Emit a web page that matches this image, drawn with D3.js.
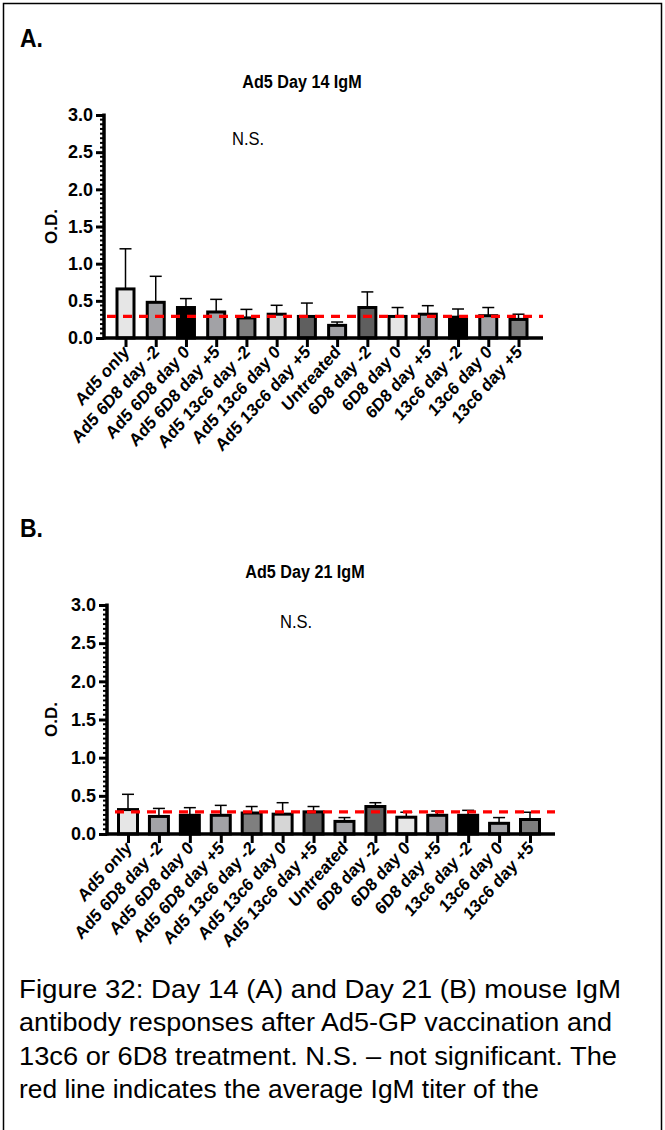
<!DOCTYPE html>
<html>
<head>
<meta charset="utf-8">
<script src="https://cdn.jsdelivr.net/npm/d3@7"></script>
<style>
  html, body { margin: 0; padding: 0; background: #fff; }
  svg { display: block; font-family: "Liberation Sans", Arial, sans-serif; }
</style>
</head>
<body>
<svg id="chart" width="665" height="1130"></svg>
<script>
// ---- Data ----
const categories = [
  "Ad5 only", "Ad5 6D8 day -2", "Ad5 6D8 day 0", "Ad5 6D8 day +5",
  "Ad5 13c6 day -2", "Ad5 13c6 day 0", "Ad5 13c6 day +5", "Untreated",
  "6D8 day -2", "6D8 day 0", "6D8 day +5", "13c6 day -2", "13c6 day 0", "13c6 day +5"
];
const barFills = [
  "#e6e6e6", "#a2a2a6", "#000000", "#a2a2a6", "#7f7f7f", "#d6d6d6", "#5f5f5f",
  "#a2a2a6", "#5f5f5f", "#e6e6e6", "#a2a2a6", "#000000", "#a2a2a6", "#7f7f7f"
];
const day14Mean = [0.66, 0.48, 0.41, 0.35, 0.27, 0.32, 0.29, 0.17, 0.41, 0.29, 0.32, 0.28, 0.30, 0.25];
const day14Err  = [1.20, 0.83, 0.53, 0.52, 0.385, 0.44, 0.47, 0.215, 0.62, 0.41, 0.435, 0.39, 0.41, 0.32];
const day21Mean = [0.32, 0.23, 0.245, 0.245, 0.275, 0.26, 0.29, 0.165, 0.36, 0.22, 0.245, 0.245, 0.14, 0.19];
const day21Err  = [0.52, 0.335, 0.345, 0.375, 0.36, 0.41, 0.36, 0.215, 0.41, 0.285, 0.30, 0.31, 0.215, 0.285];
const yTicks = [0, 0.5, 1.0, 1.5, 2.0, 2.5, 3.0];
const redLineValue14 = 0.29;
const redLineValue21 = 0.29;
const captionLines = [
  "Figure 32: Day 14 (A) and Day 21 (B) mouse IgM",
  "antibody responses after Ad5-GP vaccination and",
  "13c6 or 6D8 treatment.  N.S. \u2013 not significant. The",
  "red line indicates the average IgM titer of the"
];

const FONT = "Liberation Sans, Arial, sans-serif";
const svg = d3.select("#chart");

// frame
svg.append("rect").attr("x", 3.5).attr("y", 3.5).attr("width", 658).attr("height", 1140)
  .attr("fill", "none").attr("stroke", "#000").attr("stroke-width", 1.5);

function panel(cfg) {
  const g = svg.append("g");
  const y = d3.scaleLinear().domain([0, 3]).range([cfg.y0, cfg.y3]);
  const x = d3.scalePoint().domain(categories).range([cfg.xFirst, cfg.xLast]);

  // letter
  g.append("text").attr("transform", `translate(20,${cfg.letterY}) scale(0.92,1)`).attr("font-size", 25)
    .attr("font-weight", "bold").text(cfg.letter);
  // title
  g.append("text").attr("transform", `translate(${cfg.titleX},${cfg.titleY}) scale(0.85,1)`)
    .attr("text-anchor", "middle")
    .attr("font-size", 19).attr("font-weight", "bold").text(cfg.title);
  // N.S.
  g.append("text").attr("transform", `translate(${cfg.nsX},${cfg.nsY}) scale(0.92,1)`)
    .attr("font-size", 18).text("N.S.");

  // y axis label
  g.append("text").attr("transform", `translate(${cfg.odX},${(cfg.y0 + cfg.y3) / 2}) rotate(-90)`)
    .attr("text-anchor", "middle").attr("font-size", 17).attr("font-weight", "bold").text("O.D.");

  // y axis
  const yAxis = d3.axisLeft(y).tickValues(yTicks).tickFormat(d3.format(".1f")).tickSize(8).tickPadding(3);
  const ya = g.append("g").attr("transform", `translate(${cfg.axisX},0)`).call(yAxis);
  ya.select(".domain").remove();
  ya.selectAll(".tick line").attr("stroke", "#000").attr("stroke-width", 3);
  ya.selectAll(".tick text").attr("font-size", 18).attr("font-weight", "bold")
    .attr("font-family", FONT).attr("fill", "#000");
  // minor ticks
  const minor = d3.range(0, 3.0001, 0.0625).filter(v => Math.abs(v * 2 - Math.round(v * 2)) > 1e-6);
  g.append("g").selectAll("line").data(minor).join("line")
    .attr("x1", cfg.axisX - 4).attr("x2", cfg.axisX)
    .attr("y1", d => y(d)).attr("y2", d => y(d))
    .attr("stroke", "#000").attr("stroke-width", 2);
  g.append("line").attr("x1", cfg.axisX).attr("x2", cfg.axisX)
    .attr("y1", y(3) - 1.5).attr("y2", y(0) + 1.5).attr("stroke", "#000").attr("stroke-width", 3.5);

  // bars
  const bw = cfg.barW;
  // error bars (upper only)
  g.append("g").selectAll("line").data(cfg.mean).join("line")
    .attr("x1", (d, i) => x(categories[i])).attr("x2", (d, i) => x(categories[i]))
    .attr("y1", d => y(d)).attr("y2", (d, i) => y(cfg.err[i]))
    .attr("stroke", "#000").attr("stroke-width", 1.5);
  g.append("g").selectAll("line").data(cfg.err).join("line")
    .attr("x1", (d, i) => x(categories[i]) - 6).attr("x2", (d, i) => x(categories[i]) + 6)
    .attr("y1", d => y(d)).attr("y2", d => y(d))
    .attr("stroke", "#000").attr("stroke-width", 1.5);
  g.append("g").selectAll("rect").data(cfg.mean).join("rect")
    .attr("x", (d, i) => x(categories[i]) - bw / 2)
    .attr("y", d => y(d))
    .attr("width", bw)
    .attr("height", d => y(0) - y(d))
    .attr("fill", (d, i) => barFills[i])
    .attr("stroke", "#000").attr("stroke-width", 3);

  // x axis
  g.append("line").attr("x1", cfg.axisX).attr("x2", cfg.xEnd)
    .attr("y1", y(0)).attr("y2", y(0)).attr("stroke", "#000").attr("stroke-width", 3.5);
  const xa = g.append("g").attr("transform", `translate(0,${y(0)})`)
    .call(d3.axisBottom(x).tickSize(9).tickPadding(4));
  xa.select(".domain").remove();
  xa.selectAll(".tick line").attr("stroke", "#000").attr("stroke-width", 3);
  xa.selectAll(".tick text")
    .attr("font-size", 18).attr("font-weight", "bold").attr("fill", "#000")
    .attr("font-family", FONT)
    .attr("text-anchor", "end").attr("dy", null).attr("y", 0)
    .attr("transform", "translate(4,15) scale(0.9,1) rotate(-45)");

  // red dashed line
  g.append("line").attr("x1", cfg.redStart).attr("x2", cfg.xEnd)
    .attr("y1", y(cfg.red)).attr("y2", y(cfg.red))
    .attr("stroke", "#ff0000").attr("stroke-width", 3.2).attr("stroke-dasharray", "9,7");
}

panel({
  letter: "A.", letterY: 47, title: "Ad5 Day 14 IgM", titleX: 302, titleY: 88,
  nsX: 232, nsY: 145, odX: 57,
  y0: 338, y3: 115, axisX: 104, xFirst: 125.5, xLast: 518.5, xEnd: 543, barW: 17,
  mean: day14Mean, err: day14Err, red: redLineValue14, redStart: 107
});
panel({
  letter: "B.", letterY: 537, title: "Ad5 Day 21 IgM", titleX: 305, titleY: 578,
  nsX: 280, nsY: 628, odX: 57,
  y0: 834, y3: 605, axisX: 107, xFirst: 128, xLast: 530, xEnd: 555, barW: 19,
  mean: day21Mean, err: day21Err, red: redLineValue21, redStart: 115
});

// caption
const capEnds = [621, 612, 617, 539];
svg.append("g").selectAll("text").data(captionLines).join("text")
  .attr("x", 19).attr("y", (d, i) => 998 + i * 33.4)
  .attr("font-size", 26.5)
  .attr("textLength", (d, i) => capEnds[i] - 19)
  .attr("lengthAdjust", "spacingAndGlyphs")
  .text(d => d);
</script>
</body>
</html>
